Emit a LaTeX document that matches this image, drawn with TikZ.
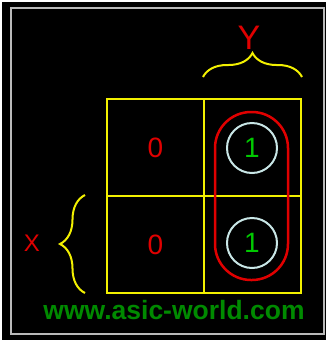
\documentclass[tikz,border=0pt]{standalone}
\usepackage{fontspec}
\setmainfont{Liberation Sans}
\usepackage{xcolor}
\usetikzlibrary{positioning,decorations.pathreplacing}
\definecolor{kyellow}{HTML}{F2F000}
\definecolor{kred}{HTML}{E00000}
\definecolor{kgreen}{HTML}{00C800}
\definecolor{kweb}{HTML}{008A00}
\definecolor{kring}{HTML}{C8E6E6}
\tikzset{
  cell/.style={rectangle, draw=kyellow, line width=2pt, minimum size=97pt, inner sep=0pt},
  zero/.style={text=kred, font=\fontsize{28}{28}\selectfont},
  one/.style={circle, draw=kring, line width=2pt, minimum size=50pt, inner sep=0pt, text=kgreen, font=\fontsize{28}{28}\selectfont},
  grp/.style={rectangle, draw=kred, line width=2.5pt, minimum width=73pt, minimum height=168pt, rounded corners=36pt},
  brc/.style={draw=kyellow, line width=2pt, decorate, decoration={brace, amplitude=24pt}},
  var/.style={text=kred, inner sep=0pt},
  kmap/.style={x=1pt, y=-1pt}
}
\begin{document}
\begin{tikzpicture}[kmap]
    \fill[white] (0,0) rectangle (327,341);
    \fill[black] (1.5,1.5) rectangle (325.5,339.5);
    \draw[gray!55!white, line width=2.5pt] (11,8) rectangle (324,334);
    \useasboundingbox (0,0) rectangle (327,341);
    % cells
    \node[cell] (c00) at (155.5,147.5) {};
    \node[cell] (c01) at (252.5,147.5) {};
    \node[cell] (c10) at (155.5,244.5) {};
    \node[cell] (c11) at (252.5,244.5) {};
    \node[zero] at (c00) {0};
    \node[zero] at (c10) {0};
    % group of ones
    \node[grp] (g) at (251.5,196) {};
    \node[one] (o1) at (252,148) {1};
    \node[one] (o2) at (252,243) {1};
    % variables
    \coordinate (yl) at (203,77);
    \coordinate (yr) at (302,77);
    \draw[brc] (yl) -- (yr);
    \node[var, font=\fontsize{34}{34}\selectfont] (Y) at (249,38) {Y};
    \coordinate (xb) at (85,293);
    \coordinate (xt) at (85,195);
    \draw[brc, decoration={amplitude=25pt}] (xb) -- (xt);
    \node[var, font=\fontsize{24}{24}\selectfont] (X) at (32,243) {X};
    \node[text=kweb, font=\fontsize{26.5}{26.5}\selectfont\bfseries] (web) at (174,310) {www.asic-world.com};
\end{tikzpicture}
\end{document}
